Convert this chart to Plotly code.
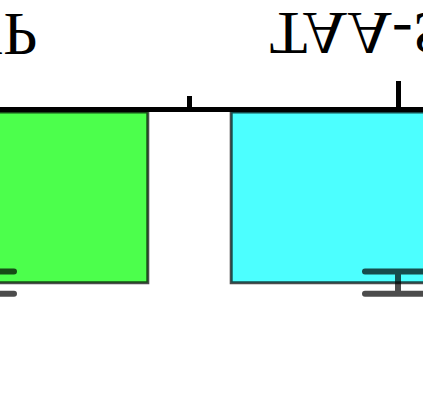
import plotly.graph_objects as go

categories = ["SNP", "TAA-SNP"]
values = [1.0, 1.0]
errors = [0.065, 0.065]
colors = ["rgba(0,255,0,0.7)", "rgba(0,255,255,0.7)"]
positions = list(range(len(categories)))
boundaries = [0.5]

X_RANGE = [0.04556, 1.05995]
TOP = 112
HEIGHT = 415
LABEL_CENTER_PX = 35

fig = go.Figure()
fig.add_trace(go.Bar(
    x=positions, y=values,
    marker=dict(color=colors, line=dict(color="rgba(0,0,0,0.7)", width=3)),
    error_y=dict(type="data", array=errors, visible=True,
                 color="rgba(0,0,0,0.7)", thickness=6, width=33),
    width=0.8,
))

# category labels whose tick lies outside the visible x range
for pos, name in zip(positions, categories):
    if not (X_RANGE[0] <= pos <= X_RANGE[1]):
        fig.add_annotation(
            x=(pos - X_RANGE[0]) / (X_RANGE[1] - X_RANGE[0]), xref="paper",
            y=1 + (TOP - LABEL_CENTER_PX) / (HEIGHT - TOP), yref="paper",
            text=name, showarrow=False, xanchor="center", yanchor="middle",
            font=dict(family="Liberation Serif", size=62, color="black"),
        )

fig.update_layout(
    template="none",
    width=423, height=HEIGHT,
    margin=dict(l=0, r=0, t=TOP, b=0, pad=0, autoexpand=False),
    paper_bgcolor="white", plot_bgcolor="white",
    showlegend=False,
    font=dict(family="Liberation Serif", size=62, color="black"),
    xaxis=dict(
        side="top", range=X_RANGE, automargin=False,
        tickmode="array", tickvals=positions, ticktext=categories,
        ticks="outside", ticklen=26, tickwidth=5, tickcolor="black",
        ticklabelstandoff=1,
        showline=True, linewidth=5, linecolor="black",
        showgrid=False, zeroline=False,
        ticklabeloverflow="allow",
        minor=dict(tickmode="array", tickvals=boundaries, ticks="outside",
                   ticklen=11, tickwidth=5, tickcolor="black", showgrid=False),
    ),
    yaxis=dict(
        range=[1.775, 0], autorange=False, automargin=False,
        showticklabels=False, showline=False, showgrid=False,
        zeroline=False, ticks="",
    ),
)

flip_js = """
document.body.style.margin = '0';
document.body.style.overflow = 'hidden';
var gd = document.getElementById('{plot_id}');
gd.querySelectorAll('.xtick text, .annotation-text').forEach(function(t){
  var b = t.getBBox();
  var cy = b.y + b.height/2;
  var tr = t.getAttribute('transform') || '';
  t.setAttribute('transform', tr + ' translate(0,' + (2*cy) + ') scale(1,-1)');
});
gd.querySelectorAll('.errorbar path').forEach(function(p){
  p.style.strokeLinecap = 'round';
});
"""

fig.write_html("out.html", post_script=flip_js,
               config={"displayModeBar": False, "staticPlot": True})
